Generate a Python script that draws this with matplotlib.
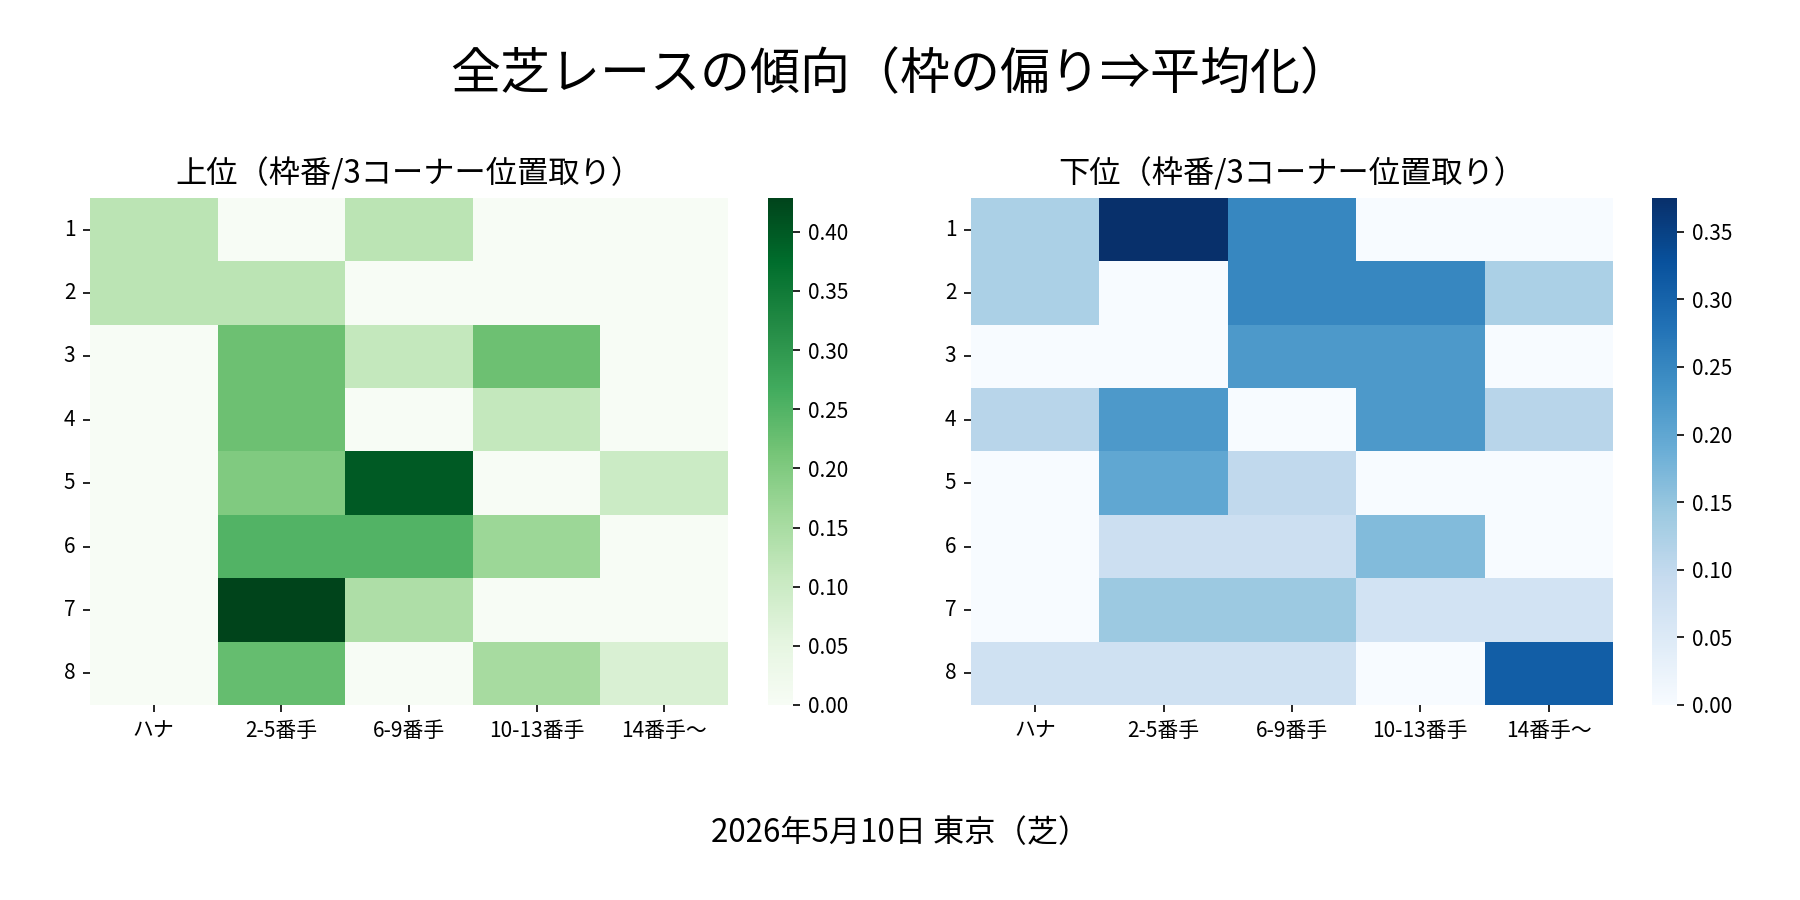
import matplotlib
matplotlib.use("Agg")
import matplotlib.pyplot as plt
import seaborn as sns
import numpy as np
import pandas as pd

plt.rcParams['font.family'] = ['Noto Sans CJK JP', 'DejaVu Sans']

gates = ["1", "2", "3", "4", "5", "6", "7", "8"]
positions = ["ハナ", "2-5番手", "6-9番手", "10-13番手", "14番手〜"]

upper = [
    [1/8, 0, 1/8, 0, 0],
    [1/8, 1/8, 0, 0, 0],
    [0, 2/9, 1/9, 2/9, 0],
    [0, 2/9, 0, 1/9, 0],
    [0, 2/10, 4/10, 0, 1/10],
    [0, 3/12, 3/12, 2/12, 0],
    [0, 6/14, 2/14, 0, 0],
    [0, 3/13, 0, 2/13, 1/13],
]
lower = [
    [1/8, 3/8, 2/8, 0, 0],
    [1/8, 0, 2/8, 2/8, 1/8],
    [0, 0, 2/9, 2/9, 0],
    [1/9, 2/9, 0, 2/9, 1/9],
    [0, 2/10, 1/10, 0, 0],
    [0, 1/12, 1/12, 2/12, 0],
    [0, 2/14, 2/14, 1/14, 1/14],
    [1/13, 1/13, 1/13, 0, 4/13],
]

suptitle = "全芝レースの傾向（枠の偏り⇒平均化）"
title_upper = "上位（枠番/3コーナー位置取り）"
title_lower = "下位（枠番/3コーナー位置取り）"
footer = "2026年5月10日 東京（芝）"

df_u = pd.DataFrame(upper, index=gates, columns=positions)
df_l = pd.DataFrame(lower, index=gates, columns=positions)

fig = plt.figure(figsize=(12, 6), dpi=150)
ax1 = fig.add_axes([0.05, 0.2167, 0.3544, 0.5633])
cax1 = fig.add_axes([0.4267, 0.2167, 0.0139, 0.5633])
ax2 = fig.add_axes([0.5394, 0.2167, 0.3567, 0.5633])
cax2 = fig.add_axes([0.9178, 0.2167, 0.0139, 0.5633])

sns.heatmap(df_u, cmap="Greens", ax=ax1, cbar_ax=cax1)
sns.heatmap(df_l, cmap="Blues", ax=ax2, cbar_ax=cax2)

for ax, t in [(ax1, title_upper), (ax2, title_lower)]:
    ax.set_title(t, fontsize=15, pad=7)
    ax.tick_params(axis='both', labelsize=10)
    ax.set_yticklabels(gates, rotation=0)
    ax.set_xticklabels(positions, rotation=0)
for cax in (cax1, cax2):
    cax.tick_params(labelsize=10)

fig.suptitle(suptitle, fontsize=24, y=0.945)
fig.text(0.5, 0.074, footer, ha='center', va='center', fontsize=15)

fig.savefig("out.png", dpi=150)
